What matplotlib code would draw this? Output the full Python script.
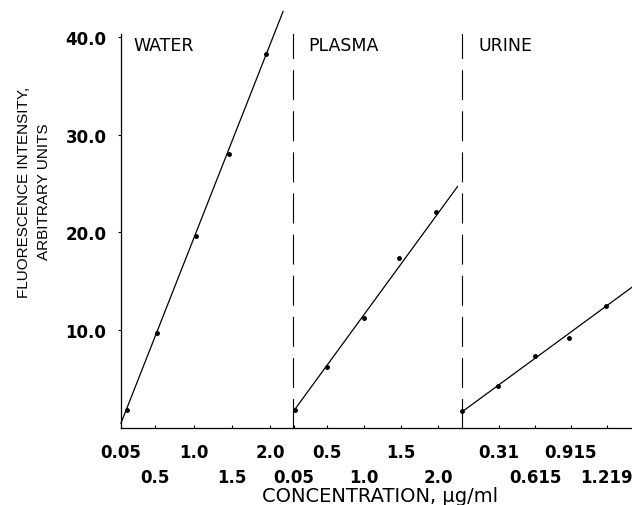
import matplotlib
matplotlib.use("Agg")
import matplotlib.pyplot as plt

# water
water_x = [0.13, 0.52, 1.03, 1.46, 1.95]
water_y = [1.85, 9.7, 19.65, 28.0, 38.3]
water_fit_x = [0.05, 2.17]
water_fit_y = [0.5, 42.6]

# plasma
plasma_x = [0.07, 0.5, 1.0, 1.47, 1.97]
plasma_y = [1.85, 6.25, 11.3, 17.4, 22.1]
plasma_fit_x = [0.05, 2.26]
plasma_fit_y = [1.75, 24.7]

# urine
urine_x = [0.0, 0.30, 0.615, 0.90, 1.21]
urine_y = [1.75, 4.3, 7.4, 9.2, 12.5]
urine_fit_x = [0.0, 1.43]
urine_fit_y = [1.65, 14.4]

panel_names = ["WATER", "PLASMA", "URINE"]
row1_ticks = [[0.05, 1.0, 2.0], [0.5, 1.5], [0.31, 0.915]]
row1_labels = [["0.05", "1.0", "2.0"], ["0.5", "1.5"], ["0.31", "0.915"]]
row2_ticks = [[0.5, 1.5], [0.05, 1.0, 2.0], [0.615, 1.219]]
row2_labels = [["0.5", "1.5"], ["0.05", "1.0", "2.0"], ["0.615", "1.219"]]
y_ticks = [10, 20, 30, 40]
y_labels = ["10.0", "20.0", "30.0", "40.0"]

W, H = 632, 506
fig = plt.figure(figsize=(W / 100, H / 100), dpi=100)

# panel edges in pixels
edges = [121, 293, 462, 632]
xlims = [(0.05, 2.30), (0.04, 2.32), (0.0, 1.43)]
y0_px, ytop_px = 429, 35
ymax = 40.3

data = [(water_x, water_y, water_fit_x, water_fit_y),
        (plasma_x, plasma_y, plasma_fit_x, plasma_fit_y),
        (urine_x, urine_y, urine_fit_x, urine_fit_y)]
label_off = [12, 15, 16]

tickfont = dict(family="DejaVu Sans", weight="bold", size=12)

for i in range(3):
    left = edges[i] / W
    width = (edges[i + 1] - edges[i]) / W
    ax = fig.add_axes([left, (H - y0_px) / H, width, (y0_px - ytop_px) / H])
    ax.set_xlim(*xlims[i])
    ax.set_ylim(0, ymax)
    ax.spines["top"].set_visible(False)
    ax.spines["right"].set_visible(False)
    ax.spines["bottom"].set_linewidth(0.9)
    ax.spines["left"].set_linewidth(0.9)

    px, py, fx, fy = data[i]
    ax.plot(fx, fy, color="black", lw=0.9, clip_on=False)
    ax.plot(px, py, "o", color="black", ms=2.5, clip_on=False)

    ax.set_xticks(row1_ticks[i])
    ax.set_xticklabels(row1_labels[i], fontdict=tickfont)
    ax.set_xticks(row2_ticks[i], minor=True)
    ax.set_xticklabels(row2_labels[i], minor=True, fontdict=tickfont)
    ax.tick_params(axis="x", which="major", direction="in", length=2.5, pad=11, width=0.8)
    ax.tick_params(axis="x", which="minor", direction="in", length=2.5, pad=29, width=0.8)

    if i == 0:
        ax.set_yticks(y_ticks)
        ax.set_yticklabels(y_labels, fontdict=tickfont)
        ax.tick_params(axis="y", direction="out", length=2.5, pad=8, width=0.8)
    else:
        ax.set_yticks([])
        ax.spines["left"].set_linestyle((0, (26, 11)))
        ax.spines["left"].set_linewidth(0.8)

    ax.text(label_off[i] / (edges[i + 1] - edges[i]), (y0_px - 46) / (y0_px - ytop_px),
            panel_names[i], transform=ax.transAxes, ha="left", va="center",
            fontsize=12.5, family="DejaVu Sans", color="black")

fig.text(34 / W, 1 - 192 / H, "FLUORESCENCE INTENSITY,\nARBITRARY UNITS",
         rotation=90, ha="center", va="center", multialignment="center",
         fontsize=11, family="Liberation Sans", linespacing=1.6)
fig.text(380 / W, 1 - 497 / H, "CONCENTRATION, \u03bcg/ml", ha="center", va="center",
         fontsize=14, family="DejaVu Sans")

fig.savefig("out.png", dpi=100)
